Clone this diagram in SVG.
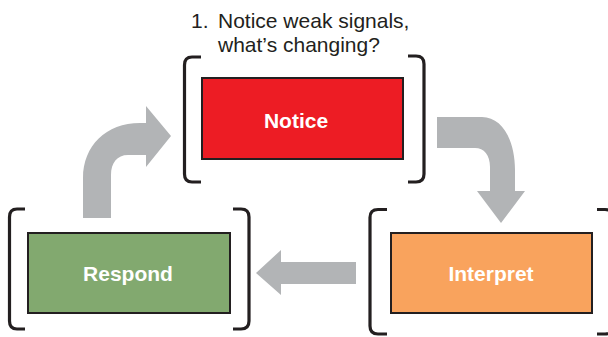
<svg xmlns="http://www.w3.org/2000/svg" width="608" height="337" viewBox="0 0 608 337">
  <style>
    .box { stroke: #231F20; stroke-width: 2; }
    .bracket { fill: none; stroke: #231F20; stroke-width: 3.2; stroke-linecap: butt; stroke-linejoin: round; }
    .label { font-family: "Liberation Sans", Arial, sans-serif; font-weight: bold; font-size: 21px; fill: #FFFFFF; text-anchor: middle; }
    .note { font-family: "Liberation Sans", Arial, sans-serif; font-size: 21px; fill: #231F20; }
    .arrow { fill: #B2B4B6; }
  </style>

  <!-- caption above the first step -->
  <text class="note"><tspan x="191" y="28">1.</tspan><tspan x="218" y="28">Notice weak signals,</tspan><tspan x="218" y="52">what’s changing?</tspan></text>

  <!-- connectors -->
  <g id="connectors">
    <!-- Respond to Notice: bent arrow going up then right -->
    <path class="arrow" d="M 83 218 L 83 178 C 83 146 106 123 140 123 L 146 123 L 146 106 L 171 136 L 146 167 L 146 155 L 128 155 C 117 155 111 163 111 175 L 111 218 Z"/>
    <!-- Notice to Interpret: bent arrow going right then down -->
    <path class="arrow" d="M 437 117 L 482 117 C 502 117 515 140 515 170 L 515 191 L 525 191 L 501 223 L 477 191 L 490 191 L 490 167 C 490 155 484 148 475 148 L 437 148 Z"/>
    <!-- Interpret to Respond: straight arrow pointing left -->
    <path class="arrow" d="M 356 262 L 281 262 L 281 250 L 256 273 L 281 295 L 281 284 L 356 284 Z"/>
  </g>

  <g id="notice">
    <path class="bracket" d="M 201 57 L 192 57 Q 184.5 57 184.5 65 L 184.5 174 Q 184.5 182 192 182 L 201 182"/>
    <path class="bracket" d="M 408 56 L 416 56 Q 424 56 424 64 L 424 174 Q 424 182 416 182 L 408 182"/>
    <rect class="box" x="202" y="78" width="201" height="81" fill="#ED1C24"/>
    <text class="label" x="296" y="128">Notice</text>
  </g>

  <g id="respond">
    <path class="bracket" d="M 25 209 L 17 209 Q 9.5 209 9.5 217 L 9.5 321 Q 9.5 329 17 329 L 25 329"/>
    <path class="bracket" d="M 233 209 L 241 209 Q 249 209 249 217 L 249 321 Q 249 329 241 329 L 233 329"/>
    <rect class="box" x="28" y="233" width="202" height="80" fill="#82A96F"/>
    <text class="label" x="128" y="281">Respond</text>
  </g>

  <g id="interpret">
    <path class="bracket" d="M 387 209.5 L 378 209.5 Q 370 209.5 370 217.5 L 370 326 Q 370 334 378 334 L 387 334"/>
    <path class="bracket" d="M 597 209.5 L 605 209.5 Q 613 209.5 613 217.5 L 613 326 Q 613 334 605 334 L 597 334"/>
    <rect class="box" x="391" y="233" width="201" height="80" fill="#F9A35D"/>
    <text class="label" x="491" y="281">Interpret</text>
  </g>
</svg>
